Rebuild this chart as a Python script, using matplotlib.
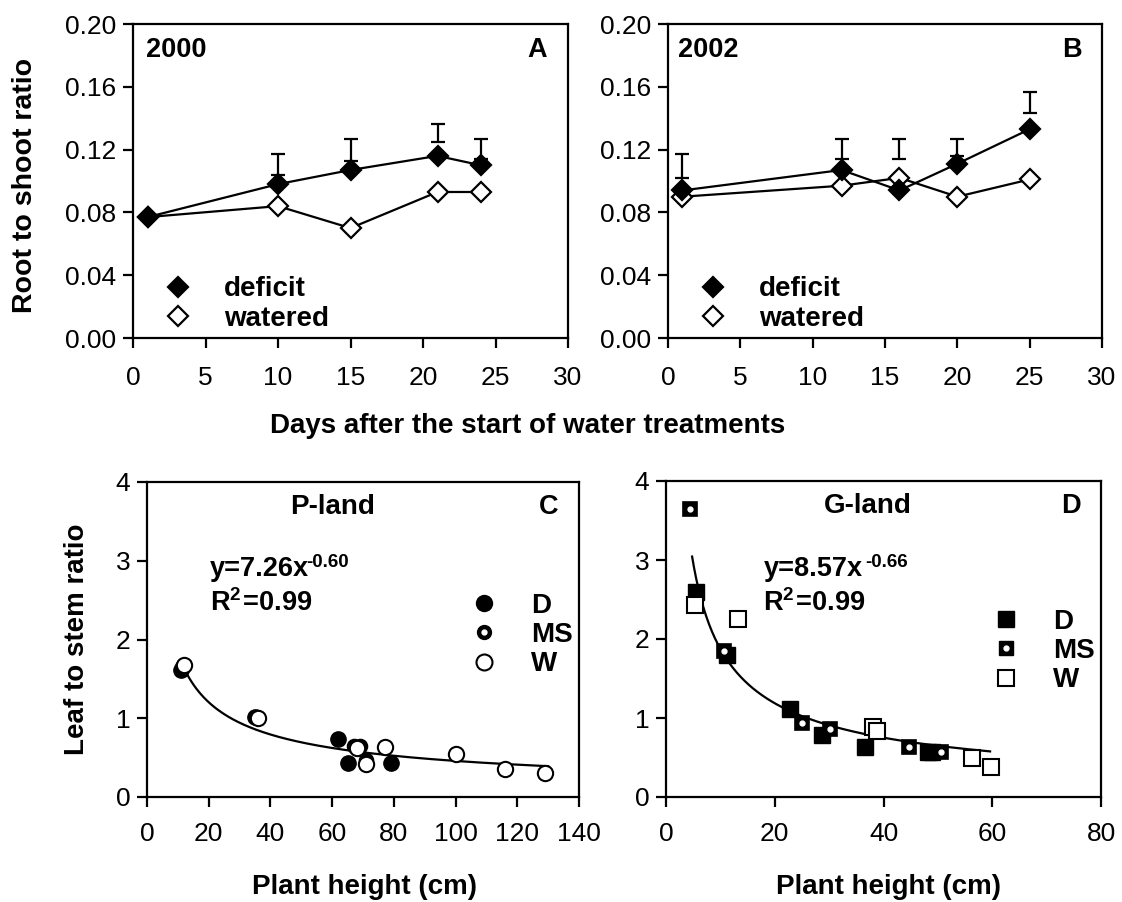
import numpy as np
import matplotlib
matplotlib.use("Agg")
import matplotlib.pyplot as plt
from matplotlib import font_manager
from matplotlib.lines import Line2D
from matplotlib.legend_handler import HandlerTuple

# ---------------- data ----------------
# Panel A (2000)
days_A = [1, 10, 15, 21, 24]
deficit_A = [0.077, 0.098, 0.107, 0.116, 0.110]
watered_A = [0.077, 0.084, 0.070, 0.093, 0.093]
errdays_A = [10, 15, 21, 24]
err_lo_A = [0.104, 0.113, 0.125, 0.114]
err_hi_A = [0.117, 0.1265, 0.136, 0.1265]

# Panel B (2002)
days_B = [1, 12, 16, 20, 25]
deficit_B = [0.094, 0.107, 0.094, 0.111, 0.133]
watered_B = [0.090, 0.097, 0.102, 0.090, 0.101]
errdays_B = [1, 12, 16, 20, 25]
err_lo_B = [0.102, 0.114, 0.114, 0.116, 0.143]
err_hi_B = [0.117, 0.1265, 0.1265, 0.1265, 0.157]

# Panel C (P-land)
C_D_x = [11, 35, 62, 65, 79]
C_D_y = [1.61, 1.02, 0.74, 0.43, 0.43]
C_MS_x = [11.5, 35.5, 67, 69, 71]
C_MS_y = [1.65, 1.01, 0.65, 0.65, 0.47]
C_W_x = [12, 36, 68, 77, 71, 100, 116, 129]
C_W_y = [1.68, 1.00, 0.62, 0.64, 0.42, 0.55, 0.35, 0.30]
C_fit_a, C_fit_b = 7.26, -0.60
C_fit_range = (12, 130)

# Panel D (G-land)
D_D_x = [5.6, 11.2, 22.8, 28.6, 36.6, 48.1, 49.0]
D_D_y = [2.59, 1.80, 1.11, 0.79, 0.63, 0.57, 0.57]
D_MS_x = [4.4, 10.6, 25.1, 30.1, 44.7, 50.5]
D_MS_y = [3.65, 1.85, 0.94, 0.86, 0.63, 0.57]
D_W_x = [5.3, 13.3, 38.1, 38.8, 56.2, 59.7]
D_W_y = [2.43, 2.25, 0.89, 0.83, 0.50, 0.38]
D_fit_a, D_fit_b = 8.57, -0.66
D_fit_range = (4.8, 59.6)

xticks_top = [0, 5, 10, 15, 20, 25, 30]
yticks_top = [0.00, 0.04, 0.08, 0.12, 0.16, 0.20]
xticks_C = [0, 20, 40, 60, 80, 100, 120, 140]
xticks_D = [0, 20, 40, 60, 80]
yticks_bot = [0, 1, 2, 3, 4]

# ---------------- style ----------------
names = {f.name for f in font_manager.fontManager.ttflist}
REG = 'Liberation Sans' if 'Liberation Sans' in names else 'DejaVu Sans'

plt.rcParams['font.family'] = [REG, 'DejaVu Sans']
plt.rcParams['mathtext.fontset'] = 'custom'
plt.rcParams['mathtext.rm'] = REG
plt.rcParams['mathtext.bf'] = REG + ':bold'

W, H = 1122, 902
fig = plt.figure(figsize=(W / 100, H / 100), dpi=100)


def box(l, t, r, b):
    return [l / W, 1 - b / H, (r - l) / W, (b - t) / H]


LW = 1.6


def style_axes(ax, xt, yt, yfmt, xlim, ylim, xpad):
    ax.set_xlim(*xlim)
    ax.set_ylim(*ylim)
    ax.set_xticks(xt)
    ax.set_yticks(yt)
    ax.set_yticklabels([yfmt.format(v) for v in yt], fontsize=19)
    ax.set_xticklabels([str(v) for v in xt], fontsize=19)
    ax.tick_params(direction='out', length=7, width=LW, top=False, right=False)
    ax.tick_params(axis='y', pad=5)
    ax.tick_params(axis='x', pad=xpad)
    for s in ax.spines.values():
        s.set_linewidth(LW)


axA = fig.add_axes(box(133, 24, 568, 338))
axB = fig.add_axes(box(668, 24, 1102, 338))
axC = fig.add_axes(box(147, 482, 579, 797))
axD = fig.add_axes(box(666, 481, 1101, 797))

LEG_PROP = {'family': REG, 'weight': 'bold', 'size': 20}

# ---- top panels ----
for ax, days, dfc, wat, ed, lo, hi, year, letter, yx in [
        (axA, days_A, deficit_A, watered_A, errdays_A, err_lo_A, err_hi_A, '2000', 'A', 0.03),
        (axB, days_B, deficit_B, watered_B, errdays_B, err_lo_B, err_hi_B, '2002', 'B', 0.023)]:
    lo = np.array(lo); hi = np.array(hi)
    ax.errorbar(ed, (lo + hi) / 2, yerr=(hi - lo) / 2, fmt='none', ecolor='black',
                elinewidth=LW, capsize=5, capthick=LW, zorder=2)
    ax.plot(days, wat, '-', color='black', lw=LW, marker='D', ms=10.5, mfc='white',
            mec='black', mew=1.6, zorder=3)
    ax.plot(days, dfc, '-', color='black', lw=LW, marker='D', ms=10.5, mfc='black',
            mec='black', mew=1.6, zorder=4)
    style_axes(ax, xticks_top, yticks_top, '{:.2f}', (0, 30), (0, 0.20), 13)
    ax.text(yx, 0.917, year, transform=ax.transAxes,
            fontsize=19.5, fontweight='bold', ha='left', va='center')
    ax.text(0.93, 0.917, letter, transform=ax.transAxes, fontsize=19.5,
            fontweight='bold', ha='center', va='center')
    hd = Line2D([], [], ls='none', marker='D', ms=10.5, mfc='black', mec='black', mew=1.6)
    hw = Line2D([], [], ls='none', marker='D', ms=10.5, mfc='white', mec='black', mew=1.6)
    ax.legend([hd, hw], ['deficit', 'watered'], loc='center left', bbox_to_anchor=(0.072, 0.108),
              frameon=False, handlelength=1.0, handletextpad=1.15, labelspacing=0.12,
              borderpad=0, borderaxespad=0, prop=LEG_PROP)


# ---- bottom panels ----
def ms_marker(ax, x, y, shape):
    ax.plot(x, y, ls='none', marker=shape, ms=10, mfc='black', mec='black', mew=1.2, zorder=4)
    ax.plot(x, y, ls='none', marker='o', ms=3.5, mfc='white', mec='white', zorder=5)


# C
xs = np.linspace(C_fit_range[0], C_fit_range[1], 300)
axC.plot(xs, C_fit_a * xs ** C_fit_b, color='black', lw=LW, zorder=2)
axC.plot(C_D_x, C_D_y, ls='none', marker='o', ms=11, mfc='black', mec='black', zorder=3)
ms_marker(axC, C_MS_x, C_MS_y, 'o')
axC.plot(C_W_x, C_W_y, ls='none', marker='o', ms=11, mfc='white', mec='black', mew=1.5, zorder=6)
style_axes(axC, xticks_C, yticks_bot, '{:d}', (0, 140), (0, 4), 11)

# D
xs = np.linspace(D_fit_range[0], D_fit_range[1], 300)
axD.plot(xs, D_fit_a * xs ** D_fit_b, color='black', lw=LW, zorder=2)
axD.plot(D_D_x, D_D_y, ls='none', marker='s', ms=11, mfc='black', mec='black', zorder=3)
ms_marker(axD, D_MS_x, D_MS_y, 's')
axD.plot(D_W_x, D_W_y, ls='none', marker='s', ms=11, mfc='white', mec='black', mew=1.5, zorder=6)
style_axes(axD, xticks_D, yticks_bot, '{:d}', (0, 80), (0, 4), 11)

for ax, title, letter, eq, sup, tx, ex, leg_x, leg_y, mk, supdx in [
        (axC, 'P-land', 'C', 'y=7.26x', '-0.60', 0.43, 0.146, 0.748, 0.514, 'o', -2),
        (axD, 'G-land', 'D', 'y=8.57x', '-0.66', 0.465, 0.224, 0.749, 0.462, 's', 2)]:
    ax.text(tx, 0.92, title, transform=ax.transAxes, fontsize=20, fontweight='bold',
            ha='center', va='center')
    ax.text(0.93, 0.92, letter, transform=ax.transAxes, fontsize=19.5, fontweight='bold',
            ha='center', va='center')
    t1 = ax.text(ex, 0.70, eq, transform=ax.transAxes, fontsize=19.5, fontweight='bold',
                 ha='left', va='baseline')
    ax.annotate(sup, xy=(1.0, 1.08), xycoords=t1, xytext=(supdx, 0),
                textcoords='offset points', fontsize=13.5, fontweight='bold',
                ha='left', va='top')
    ax.text(ex, 0.59, r'$\mathbf{R^{2}\!=\!0.99}$', transform=ax.transAxes, fontsize=19.5,
            ha='left', va='baseline')
    big = 11.5 if mk == 'o' else 11
    h1 = Line2D([], [], ls='none', marker=mk, ms=big, mfc='black', mec='black')
    h2a = Line2D([], [], ls='none', marker=mk, ms=big - 1.5, mfc='black', mec='black')
    h2b = Line2D([], [], ls='none', marker='o', ms=3.5, mfc='white', mec='white')
    h3 = Line2D([], [], ls='none', marker=mk, ms=big, mfc='white', mec='black', mew=1.5)
    ax.legend([h1, (h2a, h2b), h3], ['D', 'MS', 'W'], loc='center left',
              bbox_to_anchor=(leg_x, leg_y), handler_map={tuple: HandlerTuple(ndivide=1)},
              frameon=False, handlelength=1.0, handletextpad=1.2, labelspacing=0.12,
              borderpad=0, borderaxespad=0, prop=LEG_PROP)

# axis labels
fig.text(25 / W, 1 - 185 / H, 'Root to shoot ratio', rotation=90, ha='center', va='center',
         fontsize=20.5, fontweight='bold')
fig.text(77 / W, 1 - 639 / H, 'Leaf to stem ratio', rotation=90, ha='center', va='center',
         fontsize=20, fontweight='bold')
fig.text(528 / W, 1 - 426 / H, 'Days after the start of water treatments', ha='center',
         va='center', fontsize=20, fontweight='bold')
fig.text(365 / W, 1 - 887 / H, 'Plant height (cm)', ha='center', va='center',
         fontsize=20, fontweight='bold')
fig.text(889 / W, 1 - 887 / H, 'Plant height (cm)', ha='center', va='center',
         fontsize=20, fontweight='bold')

fig.savefig('out.png', dpi=100)
